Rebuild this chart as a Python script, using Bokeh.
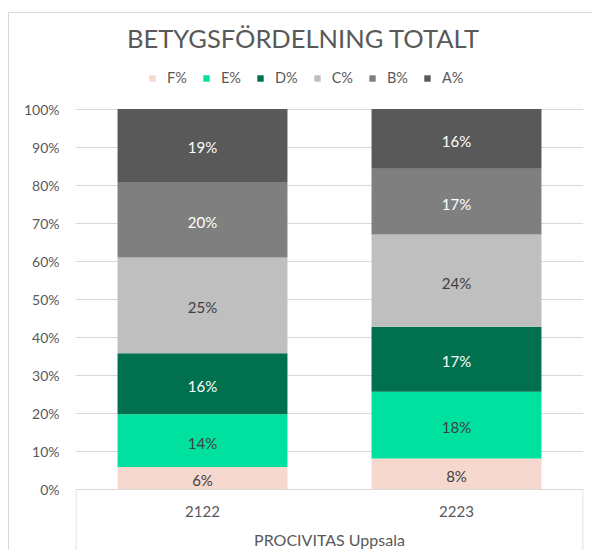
import numpy as np
from bokeh.plotting import figure
from bokeh.models import (ColumnDataSource, FactorRange, PrintfTickFormatter,
                          Legend, LegendItem, Label, Range1d)
from bokeh.core.properties import value
from bokeh.embed import file_html
from bokeh.resources import INLINE

# ---------------- data ----------------
title_text = "BETYGSFÖRDELNING TOTALT"
group = "PROCIVITAS Uppsala"
years = ["2122", "2223"]
grades = ["F%", "E%", "D%", "C%", "B%", "A%"]
F_pct = [5.8, 8.0]
E_pct = [13.9, 17.6]
D_pct = [16.0, 17.1]
C_pct = [25.2, 24.3]
B_pct = [19.9, 17.3]
A_pct = [19.2, 15.7]
y_ticks = [0, 10, 20, 30, 40, 50, 60, 70, 80, 90, 100]

series = [F_pct, E_pct, D_pct, C_pct, B_pct, A_pct]
colors = ["#F6D8CF", "#00E09E", "#00704F", "#BFBFBF", "#7F7F7F", "#595959"]
label_colors = ["#404040", "#404040", "#FFFFFF", "#404040", "#FFFFFF", "#FFFFFF"]

FONT = "Lato"
TXT = "#595959"
GRID = "#D9D9D9"

factors = [(group, y) for y in years]
data = {"x": factors}
for g, vals in zip(grades, series):
    data[g] = vals
src = ColumnDataSource(data)

W, H = 584, 538
Y0, Y1 = -16.447, 125.1316

p = figure(width=W, height=H,
           x_range=FactorRange(*factors), y_range=Range1d(Y0, Y1),
           x_axis_location=None, toolbar_location=None, output_backend="svg",
           min_border_left=66, min_border_right=10, min_border_top=0, min_border_bottom=0)
p.outline_line_color = None
p.xgrid.visible = False
p.ygrid.grid_line_color = GRID
p.ygrid.grid_line_width = 1

yax = p.yaxis[0]
yax.ticker = y_ticks
yax.formatter = PrintfTickFormatter(format="%d%%")
yax.axis_line_color = None
yax.major_tick_line_color = None
yax.minor_tick_line_color = None
yax.major_tick_out = 0
yax.major_label_standoff = 16
yax.major_label_text_font = FONT
yax.major_label_text_font_size = "14px"
yax.major_label_text_color = TXT

renderers = p.vbar_stack(grades, x="x", width=0.669, color=colors, source=src, line_width=0)

# data labels
bottoms = np.zeros(len(years))
lx, ly, lt, lc = [], [], [], []
for g, col in zip(grades, label_colors):
    vals = np.array(src.data[g], dtype=float)
    for k, v in enumerate(vals):
        lx.append(factors[k])
        ly.append(bottoms[k] + v / 2)
        lt.append(f"{round(v)}%")
        lc.append(col)
    bottoms += vals
lsrc = ColumnDataSource(dict(x=lx, y=ly, t=lt, c=lc))
p.text(x="x", y="y", text="t", text_color="c", source=lsrc, y_offset=2,
       text_align="center", text_baseline="middle",
       text_font=value(FONT), text_font_size="15px")

# category axis box
p.segment(x0=[(group, -0.998), (group, 0.998)], y0=[0, 0],
          x1=[(group, -0.998), (group, 0.998)], y1=[Y0, Y0],
          line_color=GRID, line_width=1)
p.text(x=factors, y=[0] * len(years), text=years, y_offset=22,
       text_align="center", text_baseline="middle",
       text_font=value(FONT), text_font_size="15px", text_color=TXT)
p.text(x=[group], y=[0], text=[group], y_offset=50,
       text_align="center", text_baseline="middle",
       text_font=value(FONT), text_font_size="16px", text_color=TXT)

# legend
legend = Legend(items=[LegendItem(label=g, renderers=[r]) for g, r in zip(grades, renderers)],
                orientation="horizontal", location=(73, 465),
                border_line_color=None, background_fill_alpha=0,
                label_text_font=FONT, label_text_font_size="14.5px", label_text_color=TXT,
                glyph_width=8, glyph_height=8, label_height=8, label_standoff=11,
                spacing=15, padding=0, margin=0)
p.add_layout(legend)

# title
p.add_layout(Label(x=228, y=514, x_units="screen", y_units="screen", text=title_text,
                   text_align="center", text_baseline="middle",
                   text_font=FONT, text_font_size="25.5px", text_color=TXT))

p.styles = {"margin-left": "8px", "margin-top": "12px",
            "border-top": "1px solid #D9D9D9", "border-left": "1px solid #D9D9D9"}

open("out.html", "w").write(file_html(p, INLINE))
